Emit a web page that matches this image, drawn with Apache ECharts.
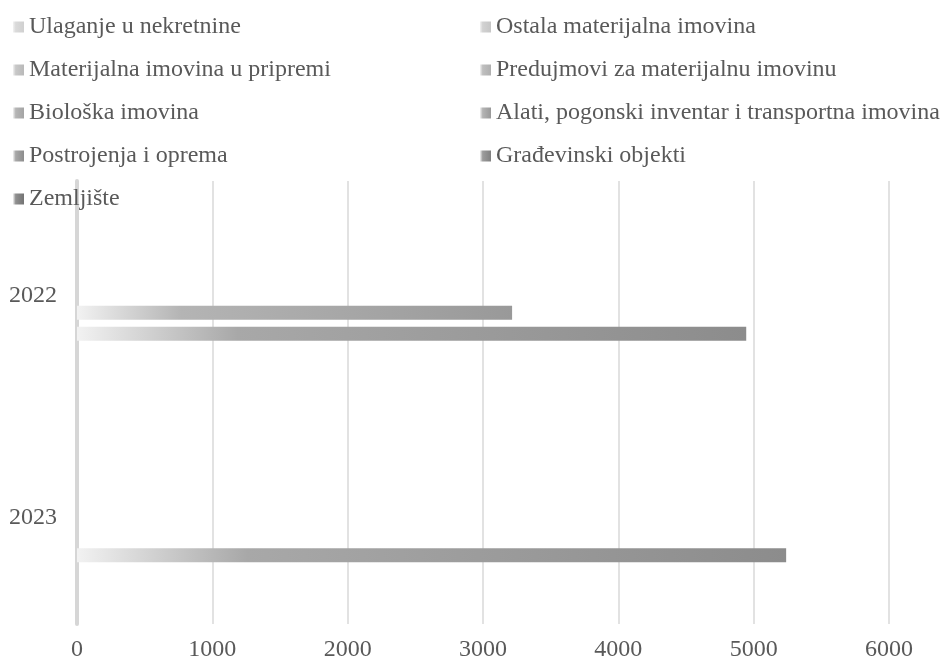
<!DOCTYPE html>
<html>
<head>
<meta charset="utf-8">
<script src="https://cdn.jsdelivr.net/npm/echarts@6/dist/echarts.min.js"></script>
<style>
html,body{margin:0;padding:0;background:#fff;}
#chart{width:943px;height:659px;}
</style>
</head>
<body>
<div id="chart"></div>
<script>
var categories = ['2022', '2023'];
var seriesNames = [
  'Ulaganje u nekretnine',
  'Ostala materijalna imovina',
  'Materijalna imovina u pripremi',
  'Predujmovi za materijalnu imovinu',
  'Biološka imovina',
  'Alati, pogonski inventar i transportna imovina',
  'Postrojenja i oprema',
  'Građevinski objekti',
  'Zemljište'
];
var ulaganje = [0, 0];
var ostala = [0, 0];
var uPripremi = [0, 0];
var predujmovi = [0, 0];
var bioloska = [0, 0];
var alati = [3215, 0];
var postrojenja = [4945, 5240];
var gradjevinski = [0, 0];
var zemljiste = [0, 0];
var seriesValues = [ulaganje, ostala, uPripremi, predujmovi, bioloska, alati, postrojenja, gradjevinski, zemljiste];
var xTicks = [0, 1000, 2000, 3000, 4000, 5000, 6000];

// style shades (mid, end) per series
var shades = [
  ['#dadada', '#d0d0d0'],
  ['#d2d2d2', '#c6c6c6'],
  ['#c8c8c8', '#b9b9b9'],
  ['#bfbfbf', '#afafaf'],
  ['#b6b6b6', '#a4a4a4'],
  ['#b4b4b4', '#999999'],
  ['#a8a8a8', '#8c8c8c'],
  ['#9c9c9c', '#808080'],
  ['#909090', '#737373']
];

var chart = echarts.init(document.getElementById('chart'));
var font = '"Liberation Serif", "Times New Roman", serif';

var series = seriesNames.map(function (name, i) {
  return {
    name: name,
    type: 'bar',
    data: seriesValues[i],
    barWidth: 14,
    barGap: '50%',
    itemStyle: {
      color: new echarts.graphic.LinearGradient(0, 0, 1, 0, [
        { offset: 0, color: '#f2f2f2' },
        { offset: 0.24, color: shades[i][0] },
        { offset: 1, color: shades[i][1] }
      ])
    }
  };
});

var legendText = { fontFamily: font, fontSize: 24, color: '#595959', lineHeight: 24 };

chart.setOption({
  animation: false,
  backgroundColor: '#ffffff',
  legend: [
    {
      orient: 'vertical',
      left: 8,
      top: 10,
      itemWidth: 11,
      itemHeight: 11,
      itemGap: 19,
      icon: 'rect',
      textStyle: legendText,
      data: [seriesNames[0], seriesNames[2], seriesNames[4], seriesNames[6], seriesNames[8]]
    },
    {
      orient: 'vertical',
      left: 475,
      top: 10,
      itemWidth: 11,
      itemHeight: 11,
      itemGap: 19,
      icon: 'rect',
      textStyle: legendText,
      data: [seriesNames[1], seriesNames[3], seriesNames[5], seriesNames[7]]
    }
  ],
  grid: { left: 77, right: 54, top: 181, bottom: 35, containLabel: false, outerBoundsMode: 'none' },
  xAxis: {
    type: 'value',
    min: xTicks[0],
    max: xTicks[xTicks.length - 1],
    interval: 1000,
    axisLine: { show: false },
    axisTick: { show: false },
    splitLine: { show: true, lineStyle: { color: '#d9d9d9', width: 1.5 } },
    axisLabel: {
      fontFamily: font, fontSize: 24, color: '#595959', margin: 14,
      formatter: function (v) { return String(v); }
    }
  },
  yAxis: {
    type: 'category',
    inverse: true,
    data: categories,
    axisLine: { show: true, lineStyle: { color: '#d6d6d6', width: 4 } },
    axisTick: { show: false },
    axisLabel: {
      margin: 20,
      formatter: function (v) { return '{y|' + v + '}'; },
      rich: {
        y: { fontFamily: font, fontSize: 24, color: '#595959', lineHeight: 24, padding: [8, 0, 0, 0] }
      }
    }
  },
  series: series
});
</script>
</body>
</html>
